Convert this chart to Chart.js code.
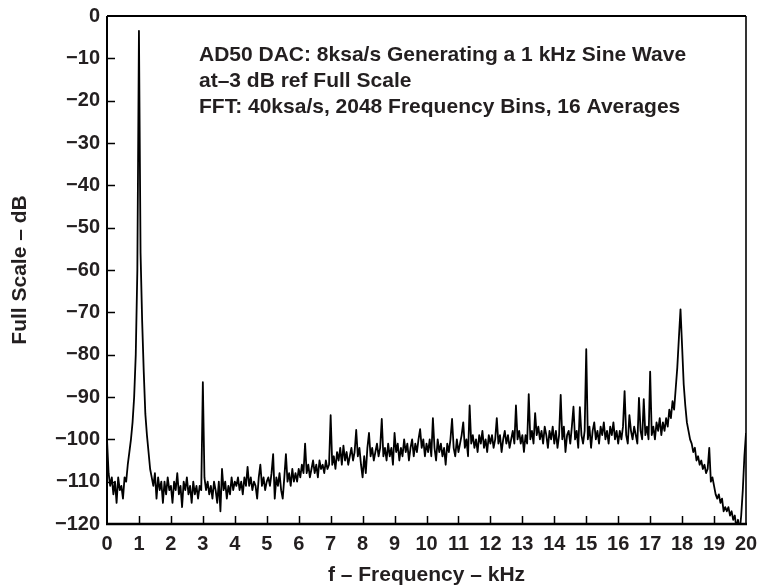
<!DOCTYPE html>
<html>
<head>
<meta charset="utf-8">
<script src="https://cdn.jsdelivr.net/npm/chart.js@4.4.0/dist/chart.umd.min.js"></script>
<style>
html,body{margin:0;padding:0;background:#fff;}
canvas{display:block;}
</style>
</head>
<body>
<canvas id="c" width="759" height="586"></canvas>
<script>
// FFT bin spacing used for the trace (kHz)
const BIN_KHZ = 0.05;

// Level, one value per 0.05 kHz (0 .. 20 kHz), dB re full scale
const levelDb = [
  // 0.00 - 0.95
  -100, -108, -111, -109, -113, -110, -115, -109, -112, -111, -114, -109, -110, -106, -103, -100, -96, -90, -80, -60,
  // 1.00 - 1.95
  -3.5, -56, -72, -84, -94, -99, -103, -107, -109, -111, -108, -114, -109, -112, -110, -115, -110, -113, -109, -112,
  // 2.00 - 2.95
  -111, -115, -110, -112, -108, -113, -111, -116, -110, -112, -109, -113, -111, -115, -110, -113, -111, -114, -111, -112,
  // 3.00 - 3.95
  -86.5, -109, -112, -110, -113, -111, -114, -110, -112, -115, -110, -117, -107, -112, -110, -114, -111, -113, -109, -112,
  // 4.00 - 4.95
  -110, -111, -109, -112, -110, -113, -109, -111, -106.5, -111, -109, -112, -110, -111, -114, -109, -106, -111, -109, -112,
  // 5.00 - 5.95
  -110, -109, -111, -108, -103.5, -114, -109, -111, -108, -112, -114, -109, -103.5, -110, -108, -111, -107, -110, -108, -110,
  // 6.00 - 6.95
  -107, -109, -106, -108, -101, -108, -106, -109, -107, -105, -108, -106, -109, -105, -107, -106, -108, -105, -107, -106,
  // 7.00 - 7.95
  -94.3, -106, -104, -107, -103, -105, -102, -106, -101.5, -105, -103, -106, -104, -102, -105, -103, -97.8, -104, -102, -106,
  // 8.00 - 8.95
  -109, -104, -108, -102, -98.5, -104, -102, -105, -103, -101, -104, -102, -95.2, -104, -102, -105, -101, -104, -102, -106,
  // 9.00 - 9.95
  -98.5, -103, -101, -105, -102, -104, -100, -103, -101, -105, -102, -100, -104, -101, -103, -100, -97.6, -102, -100, -104,
  // 10.00 - 10.95
  -101, -103, -100, -104, -95, -102, -105, -100, -103, -101, -104, -102, -106, -101, -103, -100, -95.2, -102, -104, -100,
  // 11.00 - 11.95
  -103, -101, -99, -96, -102, -100, -104, -92, -101, -99, -102, -100, -103, -99, -101, -98, -102, -100, -103, -99,
  // 12.00 - 12.95
  -101, -99, -102, -100, -95, -101, -99, -103, -100, -98, -101, -99, -102, -100, -98, -101, -92, -100, -98, -101,
  // 13.00 - 13.95
  -99, -103, -99, -101, -89.3, -100, -98, -101, -93.8, -99, -97, -100, -98, -101, -97, -99, -102, -98, -100, -97,
  // 14.00 - 14.95
  -101, -98, -102, -99, -89.5, -100, -97, -103, -99, -98, -101, -97, -92.3, -100, -98, -102, -92.4, -99, -101, -98,
  // 15.00 - 15.95
  -78.7, -100, -97, -102, -98, -96, -100, -98, -101, -97, -99, -96, -100, -98, -101, -97, -99, -96, -100, -98,
  // 16.00 - 16.95
  -101, -98, -100, -97, -88.6, -99, -101, -94.3, -98, -100, -97, -99, -101, -90.2, -98, -100, -90.5, -99, -97, -100,
  // 17.00 - 17.95
  -84, -99, -97, -100, -96, -98, -95, -99, -96, -98, -95, -97, -93, -95, -91, -93, -88, -83, -76, -69.3,
  // 18.00 - 18.95
  -78, -87, -92, -96, -98, -100, -101, -103, -102, -105, -104, -106, -105, -107, -106, -108, -107, -102, -110, -109,
  // 19.00 - 19.95
  -111, -113, -114, -113, -115, -114, -117, -116, -117, -116, -118, -117, -119, -118, -121, -119, -122, -118, -112, -104,
  // 20.00
  -98.5
];

// Axis tick values
const xTickValues = [0,1,2,3,4,5,6,7,8,9,10,11,12,13,14,15,16,17,18,19,20];
const yTickValues = [0,-10,-20,-30,-40,-50,-60,-70,-80,-90,-100,-110,-120];

// Texts
const xTitle = 'f – Frequency – kHz';
const yTitle = 'Full Scale – dB';
const noteLines = [
  'AD50 DAC: 8ksa/s Generating a 1 kHz Sine Wave',
  'at–3 dB ref Full Scale',
  'FFT: 40ksa/s, 2048 Frequency Bins, 16 Averages'
];

const FONT = '"Liberation Sans", Arial, Helvetica, sans-serif';
const TXT = '#231f20';
Chart.defaults.font.family = FONT;

const points = levelDb.map((v, i) => ({ x: i * BIN_KHZ, y: v }));

const framePlugin = {
  id: 'framePlugin',
  afterDatasetsDraw(chart) {
    const { ctx, chartArea: a, scales: { x, y } } = chart;
    ctx.save();
    ctx.strokeStyle = '#000';
    ctx.lineCap = 'butt';
    // inner ticks
    ctx.lineWidth = 1.5;
    ctx.beginPath();
    x.ticks.forEach(t => {
      if (t.value > x.min && t.value < x.max) {
        const px = Math.round(x.getPixelForValue(t.value)) + 0.5;
        ctx.moveTo(px, a.bottom);
        ctx.lineTo(px, a.bottom - 8);
      }
    });
    y.ticks.forEach(t => {
      if (t.value > y.min && t.value < y.max) {
        const py = Math.round(y.getPixelForValue(t.value)) + 0.5;
        ctx.moveTo(a.left, py);
        ctx.lineTo(a.left + 8, py);
      }
    });
    ctx.stroke();
    // frame
    ctx.lineWidth = 2;
    ctx.beginPath();
    ctx.moveTo(a.left, a.top);
    ctx.lineTo(a.right, a.top);
    ctx.moveTo(a.left, a.top);
    ctx.lineTo(a.left, a.bottom);
    ctx.stroke();
    ctx.lineWidth = 1.6;
    ctx.beginPath();
    ctx.moveTo(a.right, a.top);
    ctx.lineTo(a.right, a.bottom);
    ctx.stroke();
    ctx.lineWidth = 2.6;
    ctx.beginPath();
    ctx.moveTo(a.left - 1, a.bottom);
    ctx.lineTo(a.right + 1, a.bottom);
    ctx.stroke();
    // annotation
    ctx.fillStyle = TXT;
    ctx.font = 'bold 21px ' + FONT;
    ctx.textAlign = 'left';
    ctx.textBaseline = 'alphabetic';
    noteLines.forEach((s, i) => ctx.fillText(s, a.left + 92, a.top + 44.5 + i * 26.2));
    ctx.restore();
  }
};

new Chart(document.getElementById('c'), {
  type: 'line',
  data: {
    datasets: [{
      data: points,
      borderColor: '#000',
      borderWidth: 1.8,
      borderJoinStyle: 'round',
      pointRadius: 0,
      tension: 0,
      fill: false
    }]
  },
  options: {
    responsive: false,
    devicePixelRatio: 1,
    animation: false,
    events: [],
    layout: { padding: { left: 0, right: 13, top: 16, bottom: 0 } },
    plugins: { legend: { display: false }, tooltip: { enabled: false } },
    scales: {
      x: {
        type: 'linear',
        min: 0,
        max: 20,
        afterBuildTicks: s => { s.ticks = xTickValues.map(v => ({ value: v })); },
        afterFit: s => { s.height = 62; s.paddingLeft = 0; s.paddingRight = 0; },
        ticks: {
          autoSkip: false,
          maxRotation: 0,
          padding: 8,
          color: TXT,
          font: { size: 20, weight: 'bold' },
          callback: v => String(v)
        },
        grid: { display: false, drawTicks: false },
        border: { display: false },
        title: {
          display: true,
          text: xTitle,
          color: TXT,
          font: { size: 21, weight: 'bold' },
          padding: { top: 0, bottom: -2 }
        }
      },
      y: {
        type: 'linear',
        min: -120,
        max: 0,
        afterBuildTicks: s => { s.ticks = yTickValues.map(v => ({ value: v })); },
        afterFit: s => { s.width = 107; s.paddingTop = 0; s.paddingBottom = 0; },
        ticks: {
          autoSkip: false,
          padding: 7,
          color: TXT,
          font: { size: 20, weight: 'bold' },
          callback: v => (v === 0 ? '0' : '\u2212' + Math.abs(v))
        },
        grid: { display: false, drawTicks: false },
        border: { display: false },
        title: {
          display: true,
          text: yTitle,
          color: TXT,
          font: { size: 21, weight: 'bold' },
          padding: { top: 8, bottom: 0 }
        }
      }
    }
  },
  plugins: [framePlugin]
});
</script>
</body>
</html>
